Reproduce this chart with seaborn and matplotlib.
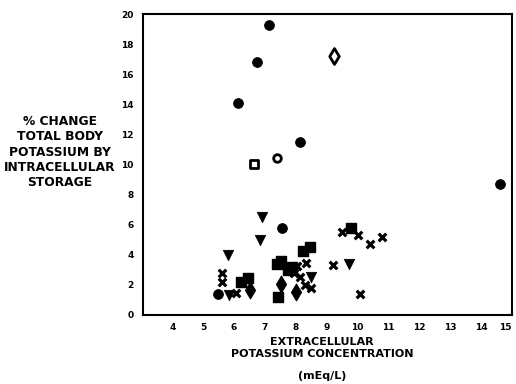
import matplotlib
matplotlib.use("Agg")
import matplotlib.pyplot as plt
import seaborn as sns
import pandas as pd

sns.set_theme(style="white")
plt.rcParams['font.family'] = ['DejaVu Sans']
plt.rcParams['text.color'] = 'black'
plt.rcParams['xtick.color'] = 'black'
plt.rcParams['ytick.color'] = 'black'

# data
circle_x = [7.12, 6.73, 6.12, 8.13, 14.63, 7.54, 5.47]
circle_y = [19.27, 16.8, 14.09, 11.5, 8.7, 5.78, 1.4]

square_x = [6.24, 6.45, 7.38, 7.53, 8.23, 8.47, 9.78, 7.41, 7.75, 7.88]
square_y = [2.21, 2.44, 3.39, 3.61, 4.27, 4.5, 5.8, 1.2, 3.0, 3.2]

tri_x = [6.92, 6.83, 5.81, 8.48, 9.72, 5.85]
tri_y = [6.49, 4.98, 3.99, 2.5, 3.39, 1.3]

diam_x = [6.53, 7.53, 8.0]
diam_y = [1.66, 2.06, 1.55]

cross_x = [5.6, 5.6, 6.05, 8.32, 8.5, 8.29, 8.13, 7.95, 8.05, 9.2, 9.51, 10.01, 10.41, 10.79, 10.09]
cross_y = [2.77, 2.2, 1.44, 3.43, 1.77, 2.0, 2.55, 2.8, 3.25, 3.32, 5.53, 5.31, 4.72, 5.16, 1.4]

open_sq_x = [6.64]
open_sq_y = [10.0]
open_circ_x = [7.38]
open_circ_y = [10.43]
open_diam_x = [9.23]
open_diam_y = [17.2]

xticks = [4, 5, 6, 7, 8, 9, 10, 11, 12, 13, 14, 15]
yticks = [0, 2, 4, 6, 8, 10, 12, 14, 16, 18, 20]

fig = plt.figure(figsize=(5.16, 3.84), dpi=100)
ax = fig.add_axes([0.277, 0.180, 0.715, 0.7835])

def plot(xs, ys, **kw):
    df = pd.DataFrame({"x": xs, "y": ys})
    sns.scatterplot(data=df, x="x", y="y", ax=ax, legend=False, **kw)

plot(circle_x, circle_y, marker="o", s=50, color="black", edgecolor="black")
plot(square_x, square_y, marker="s", s=42, color="black", edgecolor="black", linewidth=1)
plot(tri_x, tri_y, marker="v", s=55, color="black", edgecolor="black")
plot(diam_x, diam_y, marker="d", s=75, color="black", edgecolor="black")
plot(cross_x, cross_y, marker="x", s=30, color="black", linewidth=2.3)
plot(open_sq_x, open_sq_y, marker="s", s=30, color="white", edgecolor="black", linewidth=2)
plot(open_circ_x, open_circ_y, marker="o", s=30, color="white", edgecolor="black", linewidth=2)
plot(open_diam_x, open_diam_y, marker="d", s=65, color="white", edgecolor="black", linewidth=2)

ax.set_xlim(3.05, 15)
ax.set_ylim(0, 20)
ax.set_xticks(xticks)
ax.set_yticks(yticks)
ax.set_xticklabels([str(t) for t in xticks], fontsize=6.5, fontweight="bold")
ax.set_yticklabels([str(t) for t in yticks], fontsize=6.5, fontweight="bold")
ax.get_xticklabels()[-1].set_horizontalalignment("right")
ax.tick_params(axis="x", direction="in", length=5, width=1.3, pad=6)
ax.tick_params(axis="y", direction="inout", length=7, width=1.3, pad=3)
ax.set_xlabel("")
ax.set_ylabel("")
for s in ax.spines.values():
    s.set_visible(True)
    s.set_color("black")
    s.set_linewidth(1.5)

fig.text(0.116, 0.604, "% CHANGE\nTOTAL BODY\nPOTASSIUM BY\nINTRACELLULAR\nSTORAGE",
         ha="center", va="center", fontsize=8.8, fontweight="bold", linespacing=1.22)
fig.text(0.624, 0.093, "EXTRACELLULAR\nPOTASSIUM CONCENTRATION",
         ha="center", va="center", fontsize=8, fontweight="bold", linespacing=1.3)
fig.text(0.624, 0.022, "(mEq/L)", ha="center", va="center", fontsize=8, fontweight="bold")

fig.savefig("out.png", dpi=100)
